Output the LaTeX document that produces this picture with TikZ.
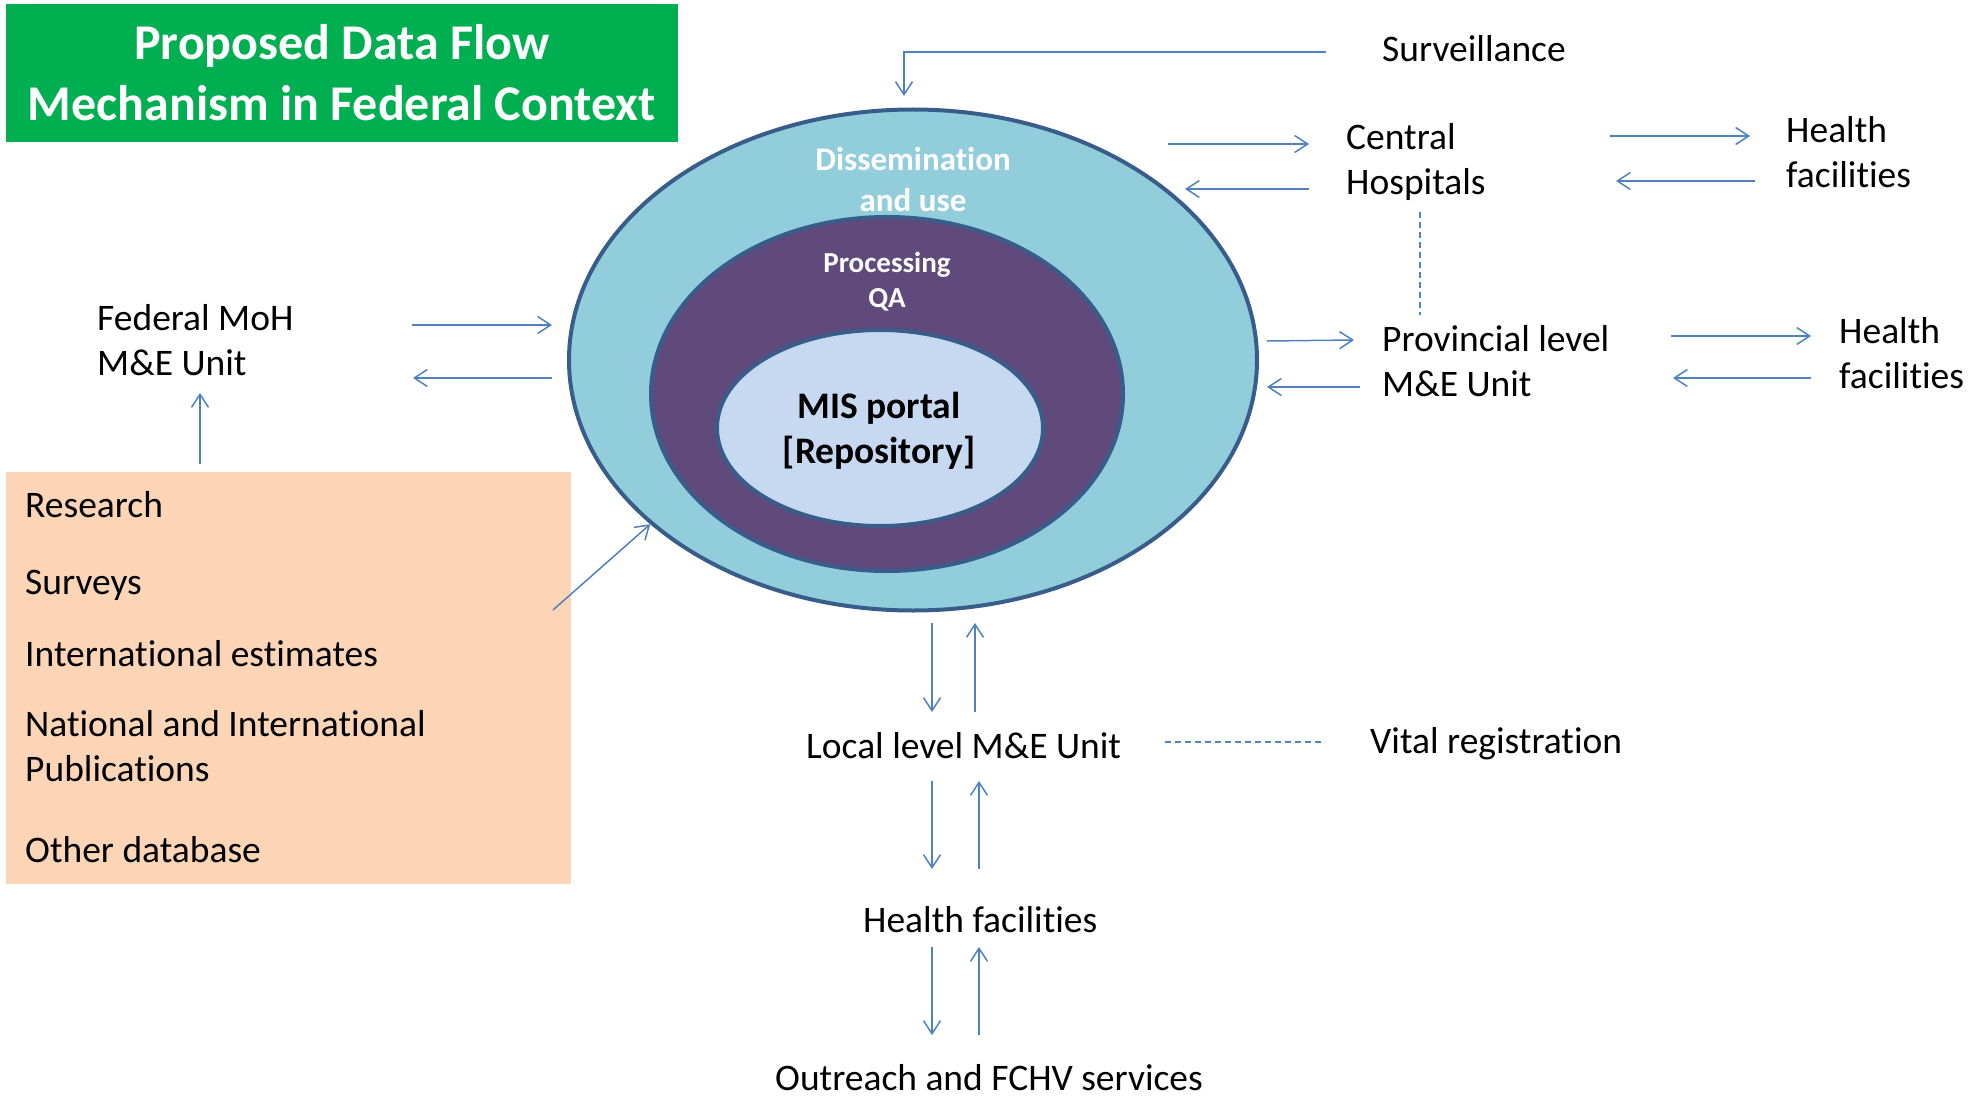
\documentclass[tikz,border=0pt]{standalone}
\usepackage{fontspec}
\setmainfont{Carlito}[Ligatures=NoCommon]
\usetikzlibrary{arrows.meta,calc,positioning,shapes.geometric}

\definecolor{titlegreen}{HTML}{00B050}
\definecolor{srcorange}{HTML}{FBD5B5}
\definecolor{arrowblue}{HTML}{4F81BD}
\definecolor{ringblue}{HTML}{385D8A}
\definecolor{usefill}{HTML}{92CDDC}
\definecolor{procfill}{HTML}{5F4A7B}
\definecolor{corefill}{HTML}{C6D9F1}

\tikzset{
	lbl/.style={anchor=west, inner sep=0pt, align=left, font=\fontsize{37.5}{45}\selectfont},
	flow/.style={draw=arrowblue, line width=1.5pt, -{Straight Barb[length=13pt,width=17pt]}},
	link/.style={draw=arrowblue, line width=1.2pt, dash pattern=on 6pt off 4pt},
	ring/.style={ellipse, draw=ringblue, line width=4pt, inner sep=0pt}
}

\begin{document}
\begin{tikzpicture}[x=1pt, y=-1pt]
		\useasboundingbox (0,0) rectangle (1975,1102);

		\node[fill=titlegreen, text=white, align=center, minimum width=672pt, minimum height=138pt,
			font=\bfseries\fontsize{50}{61}\selectfont] (title) at (342,73) {Proposed Data Flow\\Mechanism in Federal Context};

		\node[ring, fill=usefill, minimum width=688pt, minimum height=501pt] (outer) at (913,360) {};
		\node[ring, fill=procfill, minimum width=472pt, minimum height=354pt] (mid) at (887,394) {};
		\node[ring, fill=corefill, minimum width=326pt, minimum height=196pt] (core) at (880,428) {};

		\node[align=center, inner sep=0pt, text=white, font=\bfseries\fontsize{33}{41}\selectfont] (use) at (913,180) {Dissemination\\and use};
		\node[align=center, inner sep=0pt, text=white, font=\bfseries\fontsize{29}{35}\selectfont] (proc) at (887,282) {Processing\\QA};
		\node[align=center, inner sep=0pt, font=\bfseries\fontsize{37.5}{45}\selectfont] (mis) at (879,430.5) {MIS portal\\{[Repository]}};

		\node[fill=srcorange, minimum width=565pt, minimum height=412pt, inner sep=0pt] (src) at (288.5,678) {};
		\node[lbl] (research) at (25,505) {Research};
		\node[lbl] (surveys) at (25,585.5) {Surveys};
		\node[lbl] (intl) at (25,654) {International estimates};
		\node[lbl] (pubs) at (25,746) {National and International\\Publications};
		\node[lbl] (otherdb) at (25,850) {Other database};

		\node[lbl] (fed) at (97,340) {Federal MoH\\M\&E Unit};
		\node[lbl] (surv) at (1382,49) {Surveillance};
		\node[lbl] (central) at (1346,162.5) {Central\\Hospitals};
		\node[lbl] (hfcentral) at (1786,152) {Health\\facilities};
		\node[lbl] (prov) at (1382,361) {Provincial level\\M\&E Unit};
		\node[lbl] (hfprov) at (1839,353) {Health\\facilities};
		\node[lbl] (local) at (806,746) {Local level M\&E Unit};
		\node[lbl] (vital) at (1370,743.5) {Vital registration};
		\node[lbl] (hflocal) at (863,920) {Health facilities};
		\node[lbl] (outreach) at (775,1078) {Outreach and FCHV services};

		\coordinate (survA) at (1326,52);
		\coordinate (survB) at (904,52);
		\coordinate (survC) at (904,96);
		\coordinate (fedOutA) at (412,325);
		\coordinate (fedOutB) at (552,325);
		\coordinate (fedInA) at (552,378);
		\coordinate (fedInB) at (413,378);
		\coordinate (fedUp) at (200,393);
		\coordinate (srcUp) at (200,464);
		\coordinate (srcDiag) at (553,610);
		\coordinate (cenOutA) at (1168,144);
		\coordinate (cenOutB) at (1309,144);
		\coordinate (cenInA) at (1309,189);
		\coordinate (cenInB) at (1185,189);
		\coordinate (hfcOutA) at (1610,136);
		\coordinate (hfcOutB) at (1750,136);
		\coordinate (hfcInA) at (1755,181);
		\coordinate (hfcInB) at (1616,181);
		\coordinate (cenDash) at (1420,212);
		\coordinate (provDash) at (1420,315);
		\coordinate (provOutA) at (1267,341);
		\coordinate (provOutB) at (1354,340);
		\coordinate (provInA) at (1360,387);
		\coordinate (provInB) at (1267,387);
		\coordinate (hfpOutA) at (1671,336);
		\coordinate (hfpOutB) at (1811,336);
		\coordinate (hfpInA) at (1811,378);
		\coordinate (hfpInB) at (1673,378);
		\coordinate (locDownA) at (932,623);
		\coordinate (locDownB) at (932,712);
		\coordinate (locUpA) at (975,712);
		\coordinate (locUpB) at (975,623);
		\coordinate (vitalA) at (1165,742);
		\coordinate (vitalB) at (1325,742);
		\coordinate (hfDownA) at (932,781);
		\coordinate (hfDownB) at (932,869);
		\coordinate (hfUpA) at (979,869);
		\coordinate (hfUpB) at (979,781);
		\coordinate (orDownA) at (932,947);
		\coordinate (orDownB) at (932,1035);
		\coordinate (orUpA) at (979,1035);
		\coordinate (orUpB) at (979,947);

		\draw[flow] (survA) -- (survB) -- (survC);
		\draw[flow] (fedOutA) -- (fedOutB);
		\draw[flow] (fedInA) -- (fedInB);
		\draw[flow] (srcUp) -- (fedUp);
		\draw[flow] (srcDiag) -- (outer.212);
		\draw[flow] (cenOutA) -- (cenOutB);
		\draw[flow] (cenInA) -- (cenInB);
		\draw[flow] (hfcOutA) -- (hfcOutB);
		\draw[flow] (hfcInA) -- (hfcInB);
		\draw[link] (cenDash) -- (provDash);
		\draw[flow] (provOutA) -- (provOutB);
		\draw[flow] (provInA) -- (provInB);
		\draw[flow] (hfpOutA) -- (hfpOutB);
		\draw[flow] (hfpInA) -- (hfpInB);
		\draw[flow] (locDownA) -- (locDownB);
		\draw[flow] (locUpA) -- (locUpB);
		\draw[link] (vitalA) -- (vitalB);
		\draw[flow] (hfDownA) -- (hfDownB);
		\draw[flow] (hfUpA) -- (hfUpB);
		\draw[flow] (orDownA) -- (orDownB);
		\draw[flow] (orUpA) -- (orUpB);
	\end{tikzpicture}
\end{document}
